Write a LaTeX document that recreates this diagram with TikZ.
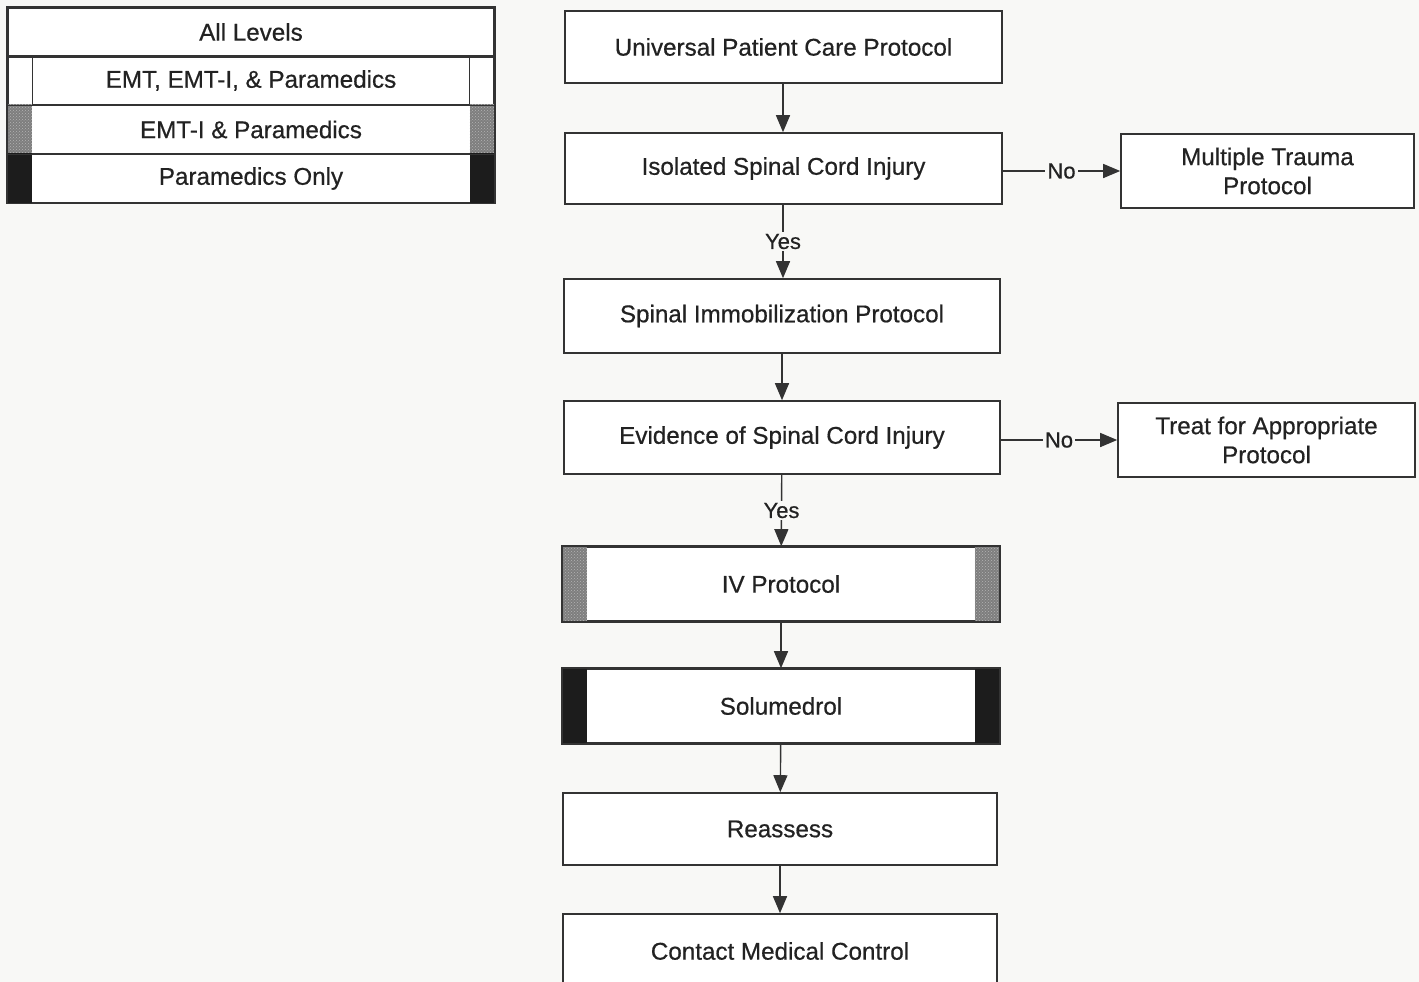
\documentclass[tikz,border=0pt]{standalone}
\usepackage{fontspec}
\setmainfont{Liberation Sans}
\newfontfamily\boxfont{Liberation Sans}[FakeBold=0.6]
\usetikzlibrary{arrows.meta,patterns}
\definecolor{bg}{HTML}{F8F8F6}
\definecolor{ink}{HTML}{222222}
\definecolor{edge}{HTML}{333333}
\definecolor{stipple}{HTML}{7E7E7E}
\definecolor{stipdot}{HTML}{B4B4B4}
\definecolor{solid}{HTML}{1C1C1C}
\tikzset{
  box/.style={draw=edge, line width=1.6pt, fill=white, text=ink, align=center,
    font=\boxfont\fontsize{24.2}{29}\selectfont, inner sep=0pt},
  mainbox/.style={box, minimum width=436pt, minimum height=73pt},
  sidebox/.style={box, minimum width=295pt, minimum height=74pt},
  legrow/.style={box, minimum width=486pt, minimum height=48.5pt},
  flow/.style={draw=edge, line width=1.4pt, -{Triangle[length=17pt,width=14pt]}},
  lab/.style={fill=bg, text=ink, inner sep=2pt, font=\boxfont\fontsize{22}{26}\selectfont},
  graybar/.style={fill=stipple, postaction={pattern=crosshatch dots, pattern color=stipdot}},
  blackbar/.style={fill=solid},
}
\begin{document}
\begin{tikzpicture}[x=1pt,y=-1pt]
\fill[bg] (0,0) rectangle (1419,982);
\useasboundingbox (0,0) rectangle (1419,982);

% legend
\node[legrow] (all) at (251,32) {All Levels};
\node[legrow] (emt) at (251,80.5) {EMT, EMT-I, \& Paramedics};
\node[legrow] (emti) at (251,129.5) {EMT-I \& Paramedics};
\node[legrow] (para) at (251,178.5) {Paramedics Only};
\draw[edge, line width=1.2pt] ([xshift=25pt]emt.north west) -- ([xshift=25pt]emt.south west);
\draw[edge, line width=1.2pt] ([xshift=-25pt]emt.north east) -- ([xshift=-25pt]emt.south east);
\fill[graybar] (emti.north west) rectangle ([xshift=25pt]emti.south west);
\fill[graybar] (emti.north east) rectangle ([xshift=-25pt]emti.south east);
\fill[blackbar] (para.north west) rectangle ([xshift=25pt]para.south west);
\fill[blackbar] (para.north east) rectangle ([xshift=-25pt]para.south east);
\draw[edge, line width=1.6pt] (all.north west) rectangle (para.south east);
\foreach \r in {all,emt,emti}{\draw[edge, line width=1.6pt] (\r.south west) -- (\r.south east);}

% main column
\node[mainbox, minimum width=437pt, minimum height=72pt] (upc) at (783.5,47) {Universal Patient Care Protocol};
\node[mainbox, minimum width=437pt, minimum height=71pt] (iso) at (783.5,168.5) {Isolated Spinal Cord Injury};
\node[mainbox, minimum height=74pt] (sip) at (782,316) {Spinal Immobilization Protocol};
\node[mainbox] (evi) at (782,437.5) {Evidence of Spinal Cord Injury};
\node[mainbox, minimum height=74pt] (ivp) at (781,584) {IV Protocol};
\node[mainbox, minimum height=74pt] (sol) at (781,706) {Solumedrol};
\node[mainbox, minimum width=434pt, minimum height=72pt] (rea) at (780,829) {Reassess};
\node[mainbox, minimum width=434pt, minimum height=74pt] (cmc) at (780,951) {Contact Medical Control};

% side boxes
\node[sidebox, minimum width=293pt] (mtp) at (1267.5,171) {Multiple Trauma\\Protocol};
\node[sidebox, minimum width=297pt] (tap) at (1266.5,440) {Treat for Appropriate\\Protocol};

% level bars
\fill[graybar] (ivp.north west) rectangle ([xshift=25pt]ivp.south west);
\fill[graybar] (ivp.north east) rectangle ([xshift=-25pt]ivp.south east);
\fill[blackbar] (sol.north west) rectangle ([xshift=25pt]sol.south west);
\fill[blackbar] (sol.north east) rectangle ([xshift=-25pt]sol.south east);
\draw[edge, line width=1.6pt] (ivp.north west) rectangle (ivp.south east);
\draw[edge, line width=1.6pt] (sol.north west) rectangle (sol.south east);

% connectors
\draw[flow] (upc.south -| 783,0) -- (iso.north -| 783,0);
\draw[flow] (iso.south -| 783,0) -- node[lab] {Yes} (sip.north -| 783,0);
\draw[flow] (sip) -- (evi);
\draw[flow] (evi) -- node[lab] {Yes} (ivp);
\draw[flow] (ivp) -- (sol);
\draw[flow] (sol) -- (rea);
\draw[flow] (rea) -- (cmc);
\draw[flow] (iso.east |- mtp.west) -- node[lab] {No} (mtp.west);
\draw[flow] (evi.east |- tap.west) -- node[lab] {No} (tap.west);
\end{tikzpicture}
\end{document}
